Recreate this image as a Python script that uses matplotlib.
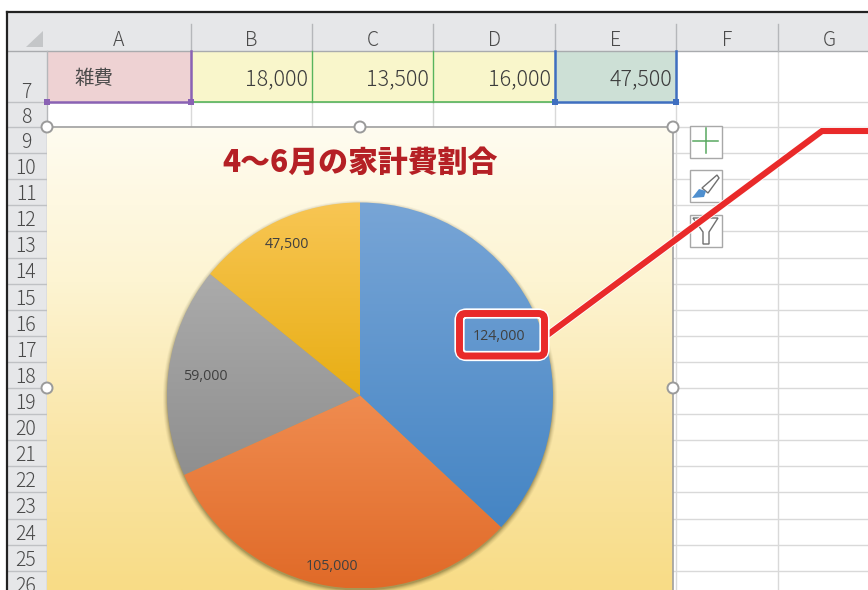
#!/usr/bin/env python3
import matplotlib

matplotlib.use("Agg")
import matplotlib.pyplot as plt
import numpy as np
from matplotlib.colors import LinearSegmentedColormap
from matplotlib.patches import Circle, FancyBboxPatch, Polygon, Rectangle
import matplotlib.patheffects as pe

plt.rcParams["font.family"] = ["Noto Sans CJK JP", "DejaVu Sans"]

# Sheet content
column_names = ["A", "B", "C", "D", "E", "F", "G"]
row_names = [str(n) for n in range(8, 27)]
row7_label = "雑費"
row7_values = ["18,000", "13,500", "16,000", "47,500"]

# Chart content
chart_title = "4～6月の家計費割合"
slice_values = [124000, 105000, 59000, 47500]
slice_tops = ["#78a5d6", "#f08c50", "#ababab", "#f8c654"]
slice_bottoms = ["#4585c4", "#e06a28", "#8f8f8f", "#e8ae14"]
label_spots = [(499, 336), (332, 566), (205, 377), (287, 244)]

# Layout in pixels of the 868x590 picture
col_edges = [47, 191, 312, 433, 555, 676, 778, 880]
row_edges = [102] + [127 + 26.1 * i for i in range(19)]
chart_box = (47, 127, 673, 590)
pie_center = (360, 395.5)
pie_radius = 193
TEXT = "#4a4a4a"
GRID = "#d9d9d9"


def vertical_gradient(ax, box, colours, clip=None, zorder=2):
    cmap = LinearSegmentedColormap.from_list("g", colours)
    ramp = np.linspace(0, 1, 256).reshape(-1, 1)
    left, top, right, bottom = box
    image = ax.imshow(
        ramp,
        cmap=cmap,
        extent=(left, right, bottom, top),
        origin="upper",
        aspect="auto",
        zorder=zorder,
    )
    if clip is not None:
        image.set_clip_path(clip)
    return image


def draw_sheet(ax):
    # Header strip and row number strip
    ax.add_patch(Rectangle((7, 13), 861, 38, fc="#e6e7e9", ec="none", zorder=1))
    ax.add_patch(Rectangle((7, 13), 40, 577, fc="#e6e7e9", ec="none", zorder=1))
    ax.add_patch(Polygon([(43, 31), (43, 47), (26, 47)], fc="#c4c6c8", ec="none", zorder=1.5))
    ax.plot([7, 868], [12, 12], color="#222222", lw=1.6, zorder=6)
    ax.plot([7, 7], [12, 590], color="#222222", lw=1.6, zorder=6)
    ax.plot([7, 868], [51, 51], color="#a9abae", lw=1.0, zorder=1.6)
    ax.plot([47, 47], [51, 590], color="#b5b7ba", lw=1.0, zorder=1.6)

    # Grid lines
    for y in row_edges:
        ax.plot([7, 47], [y, y], color="#bfc1c4", lw=1.0, zorder=1.6)
        ax.plot([47, 868], [y, y], color=GRID, lw=1.0, zorder=1.2)
    for x in col_edges[1:-1]:
        ax.plot([x, x], [24, 51], color="#b5b7ba", lw=1.0, zorder=1.6)
        ax.plot([x, x], [51, 590], color=GRID, lw=1.0, zorder=1.2)

    # Column letters and row numbers
    for name, left, right in zip(column_names, col_edges, col_edges[1:]):
        ax.text((left + right) / 2, 41, name, ha="center", va="center",
                fontsize=14, weight="light", color=TEXT, zorder=3)
    ax.text(26, 92, "7", ha="center", va="center", fontsize=14,
            weight="light", color=TEXT, zorder=3)
    for name, top in zip(row_names, row_edges):
        ax.text(26, top + 15.5, name, ha="center", va="center", fontsize=14,
                weight="light", color=TEXT, zorder=3)

    # Row 7 cells
    ax.add_patch(Rectangle((47, 51), 144, 51, fc="#eed2d3", ec="none", zorder=1.3))
    ax.add_patch(Rectangle((191, 51), 364, 51, fc="#f9f6cb", ec="none", zorder=1.3))
    ax.add_patch(Rectangle((555, 51), 121, 51, fc="#cde0d6", ec="none", zorder=1.3))
    ax.text(74, 79, row7_label, ha="left", va="center", fontsize=14,
            color=TEXT, zorder=3)
    for value, right in zip(row7_values, col_edges[2:]):
        ax.text(right - 4, 79, value, ha="right", va="center", fontsize=15.5,
                weight="light", color="#3c3c3c", zorder=3)

    # Range selection outlines
    ax.plot([47, 191, 191], [102, 102, 51], color="#8a62b4", lw=1.8, zorder=3)
    ax.plot([191, 555], [102, 102], color="#58b45c", lw=1.2, zorder=3)
    for x in col_edges[2:4]:
        ax.plot([x, x], [51, 102], color="#58b45c", lw=1.0, zorder=3)
    ax.plot([555, 555, 676, 676], [51, 102, 102, 51], color="#3f6fc0", lw=1.8, zorder=3)
    for x, colour in [(47, "#8a62b4"), (191, "#8a62b4"), (555, "#3f6fc0"), (676, "#3f6fc0")]:
        ax.add_patch(Rectangle((x - 3, 99), 6, 6, fc=colour, ec="none", zorder=4))


def draw_chart(ax):
    left, top, right, bottom = chart_box
    vertical_gradient(ax, (left, top, right, bottom),
                      ["#fffcf0", "#fdf4d2", "#fae6a8", "#f8dc86"], zorder=2)
    ax.plot([left, right], [top, top], color="#a0a0a0", lw=1.2, zorder=2.5)
    ax.plot([right, right], [top, bottom], color="#a0a0a0", lw=1.2, zorder=2.5)

    ax.text((left + right) / 2, 162, chart_title, ha="center", va="center",
            fontsize=21.5, weight="black", color="#b52025", zorder=5)

    # Soft shadow behind the pie
    for grow, alpha in [(4, 0.05), (3, 0.07), (2, 0.10), (1, 0.14), (0, 0.18)]:
        ax.add_patch(Circle((pie_center[0], pie_center[1] + 2), pie_radius + grow,
                            fc="#4a4218", ec="none", alpha=alpha, zorder=2.6))

    # y axis runs downwards, so this goes clockwise on screen from 12 o'clock
    wedges, _ = ax.pie(slice_values, center=pie_center, radius=pie_radius,
                       startangle=-90, counterclock=True, frame=True)
    for wedge, c_top, c_bottom in zip(wedges, slice_tops, slice_bottoms):
        wedge.set_facecolor("none")
        wedge.set_zorder(2.9)
        # each slice has its own gradient, top to bottom of that slice
        extent = wedge.get_path().get_extents(wedge.get_patch_transform())
        box = (extent.x0, extent.y0, extent.x1, extent.y1)
        vertical_gradient(ax, box, [c_top, c_bottom], clip=wedge, zorder=3)

    for value, (x, y) in zip(slice_values, label_spots):
        ax.text(x, y, f"{value:,}", ha="center", va="center", fontsize=10.3,
                family="Open Sans", color="#404040", zorder=5)

    # Selection handles
    for x, y in [(left, top), (360, top), (right, top), (left, 388), (right, 388)]:
        ax.add_patch(Circle((x, y), 5.5, fc="white", ec="#9a9a9a", lw=1.4, zorder=5))


def draw_buttons(ax):
    for top in [126, 170, 215]:
        ax.add_patch(Rectangle((690, top), 32, 32, fc="white", ec="#a8a8a8", lw=1.0, zorder=3))
    # plus
    ax.plot([693, 718], [141, 141], color="#58a860", lw=1.1, zorder=4)
    ax.plot([705.5, 705.5], [128, 153], color="#58a860", lw=1.1, zorder=4)
    # brush
    ax.add_patch(Polygon([(702, 188), (717, 175), (719, 178), (708, 193)],
                         fc="white", ec="#707070", lw=1.0, zorder=4))
    ax.add_patch(Polygon([(692, 198), (699, 189), (706, 191), (704, 197)],
                         fc="#4f8fcf", ec="none", zorder=4))
    # funnel
    ax.add_patch(Polygon([(693, 218), (718, 218), (709, 232), (709, 244), (703, 244), (703, 232)],
                         fc="white", ec="#707070", lw=1.0, zorder=4))


def draw_callout(ax):
    halo = [pe.Stroke(linewidth=5.6, foreground="white"), pe.Normal()]
    ax.plot([546, 822, 868], [336, 131, 131], color="#e92a2a", lw=4.4,
            solid_joinstyle="miter", path_effects=halo, zorder=6)
    ax.add_patch(FancyBboxPatch((459.5, 313.5), 85, 42.5, boxstyle="round,pad=0,rounding_size=7",
                                fc="none", ec="white", lw=7.4, zorder=6.5))
    ax.add_patch(FancyBboxPatch((459.5, 313.5), 85, 42.5, boxstyle="round,pad=0,rounding_size=6",
                                fc="none", ec="#e92a2a", lw=5.0, zorder=7))


def main():
    fig = plt.figure(figsize=(8.68, 5.9), dpi=100, facecolor="white")
    ax = fig.add_axes([0, 0, 1, 1])

    draw_sheet(ax)
    draw_chart(ax)
    draw_buttons(ax)
    draw_callout(ax)

    ax.set_aspect("auto")
    ax.set_xlim(0, 868)
    ax.set_ylim(590, 0)
    ax.axis("off")
    fig.savefig("out.png", dpi=100)


if __name__ == "__main__":
    main()
